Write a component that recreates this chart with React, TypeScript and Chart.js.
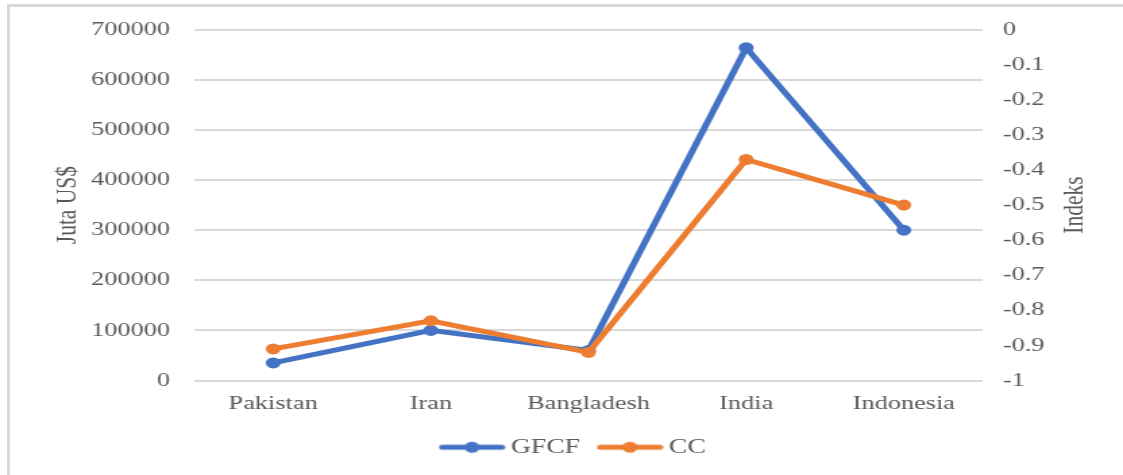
import React, { useEffect, useRef } from "react";
import { Chart, registerables } from "chart.js";

Chart.register(...registerables);

// ---- data ----
const categories = ["Pakistan", "Iran", "Bangladesh", "India", "Indonesia"];
const gfcfValues = [35000, 100000, 60000, 664000, 300000];
const ccValues = [-0.91, -0.83, -0.92, -0.37, -0.5];
const leftTicks = [0, 100000, 200000, 300000, 400000, 500000, 600000, 700000];
const rightTicks = [0, -0.1, -0.2, -0.3, -0.4, -0.5, -0.6, -0.7, -0.8, -0.9, -1];
const seriesNames = ["GFCF", "CC"];
const seriesColors = ["#4472C4", "#ED7D31"];
const leftTitle = "Juta US$";
const rightTitle = "Indeks";

// ---- styling ----
const CANVAS_W = 832; // drawn width, stretched to 1123 css px
const CANVAS_H = 475;
const FONT = '"Liberation Serif", "Times New Roman", serif';
const TEXT = "#595959";
const GRID = "#d9d9d9";
const PAD_LEFT = 22;

function legendImage(color: string): HTMLCanvasElement {
  const c = document.createElement("canvas");
  c.width = 50;
  c.height = 14;
  const g = c.getContext("2d")!;
  g.strokeStyle = color;
  g.lineWidth = 5;
  g.lineCap = "round";
  g.beginPath();
  g.moveTo(3, 7);
  g.lineTo(47, 7);
  g.stroke();
  g.fillStyle = color;
  g.beginPath();
  g.arc(25, 7, 5.5, 0, Math.PI * 2);
  g.fill();
  return c;
}

const axisTitlePlugin = {
  id: "axisTitles",
  afterDraw(chart: any) {
    const { ctx, chartArea, scales } = chart;
    const cy = (chartArea.top + chartArea.bottom) / 2;
    ctx.save();
    ctx.fillStyle = TEXT;
    ctx.font = `21.5px ${FONT}`;
    ctx.textAlign = "center";
    ctx.textBaseline = "middle";
    ctx.save();
    ctx.translate(50, cy);
    ctx.rotate(-Math.PI / 2);
    ctx.fillText(leftTitle, 0, 0);
    ctx.restore();
    ctx.save();
    ctx.translate(scales.y1.right - 36, cy);
    ctx.rotate(-Math.PI / 2);
    ctx.fillText(rightTitle, 0, 0);
    ctx.restore();
    ctx.restore();
  },
};

export default function App() {
  const ref = useRef<HTMLCanvasElement>(null);

  useEffect(() => {
    if (!ref.current) return;
    const images = seriesColors.map(legendImage);
    const chart = new Chart(ref.current, {
      type: "line",
      data: {
        labels: categories,
        datasets: [
          {
            label: seriesNames[0],
            data: gfcfValues,
            yAxisID: "y",
            borderColor: seriesColors[0],
            backgroundColor: seriesColors[0],
            borderWidth: 5,
            pointRadius: 5.5,
            pointHoverRadius: 5.5,
            pointBorderWidth: 0,
            tension: 0,
            order: 1,
          },
          {
            label: seriesNames[1],
            data: ccValues,
            yAxisID: "y1",
            borderColor: seriesColors[1],
            backgroundColor: seriesColors[1],
            borderWidth: 5,
            pointRadius: 5.5,
            pointHoverRadius: 5.5,
            pointBorderWidth: 0,
            tension: 0,
            order: 0,
          },
        ],
      },
      options: {
        responsive: false,
        animation: false,
        devicePixelRatio: 1,
        layout: { padding: { top: 28, left: PAD_LEFT, right: 0, bottom: 7.5 } },
        plugins: {
          tooltip: { enabled: false },
          legend: {
            position: "bottom",
            labels: {
              usePointStyle: true,
              pointStyleWidth: 37,
              padding: 18.5,
              color: TEXT,
              font: { family: FONT, size: 20.5 },
              generateLabels: (ch: any) =>
                ch.data.datasets.map((ds: any, i: number) => ({
                  text: ds.label,
                  fillStyle: seriesColors[i],
                  strokeStyle: seriesColors[i],
                  lineWidth: 0,
                  pointStyle: images[i],
                  datasetIndex: i,
                  hidden: false,
                  fontColor: TEXT,
                })),
            },
          },
        },
        scales: {
          x: {
            offset: true,
            grid: { display: false, drawTicks: false, offset: true },
            border: { display: false },
            afterFit: (s: any) => {
              s.height = 38;
            },
            ticks: {
              color: TEXT,
              font: { family: FONT, size: 19.5, lineHeight: 1.0 },
              padding: 14,
              maxRotation: 0,
              autoSkip: false,
            },
          },
          y: {
            position: "left",
            min: 0,
            max: 700000,
            afterBuildTicks: (s: any) => {
              s.ticks = leftTicks.map((v) => ({ value: v }));
            },
            afterFit: (s: any) => {
              s.width = 144 - PAD_LEFT;
            },
            grid: { color: GRID, lineWidth: 2, drawTicks: false },
            border: { display: false },
            ticks: {
              color: TEXT,
              font: { family: FONT, size: 19.5 },
              padding: 18,
              callback: (v: any) => String(v),
            },
          },
          y1: {
            position: "right",
            min: -1,
            max: 0,
            afterBuildTicks: (s: any) => {
              s.ticks = rightTicks.map((v) => ({ value: v }));
            },
            afterFit: (s: any) => {
              s.width = CANVAS_W - 728;
            },
            grid: { display: false, drawTicks: false },
            border: { display: false },
            ticks: {
              color: TEXT,
              font: { family: FONT, size: 19.5 },
              padding: 15,
              callback: (v: any) => String(Number(Number(v).toFixed(1))),
            },
          },
        },
      },
      plugins: [axisTitlePlugin],
    } as any);
    return () => chart.destroy();
  }, []);

  return (
    <div
      style={{
        position: "fixed",
        left: 0,
        top: 0,
        width: 1123,
        height: 475,
        overflow: "hidden",
        background: "#fff",
      }}
    >
      <div
        style={{
          position: "absolute",
          left: 7,
          top: 4,
          width: 1300,
          height: 700,
          borderLeft: `3px solid ${GRID}`,
          borderTop: `3px solid ${GRID}`,
        }}
      />
      <canvas
        ref={ref}
        width={CANVAS_W}
        height={CANVAS_H}
        style={{
          position: "absolute",
          left: 0,
          top: 0,
          width: "1123px",
          height: "475px",
        }}
      />
    </div>
  );
}
